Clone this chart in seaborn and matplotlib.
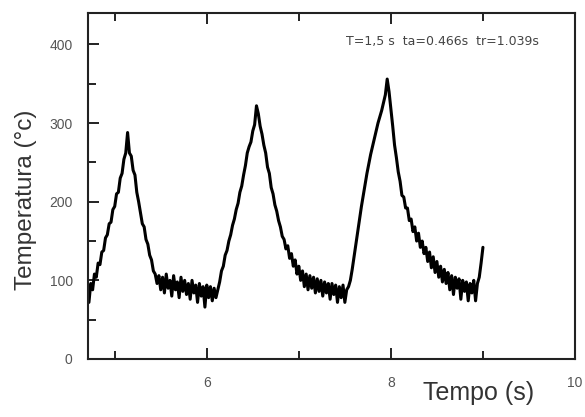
import numpy as np
import pandas as pd
import matplotlib
matplotlib.use("Agg")
import matplotlib.pyplot as plt
import seaborn as sns
from matplotlib.ticker import MultipleLocator

t_start = 4.72
t_step = 0.02

rise_1 = [72, 96, 88, 108, 104, 122, 120, 136, 138, 154, 158, 172, 174, 190, 194,
          210, 212, 230, 236, 254, 262, 288]
fall_1 = [262, 258, 240, 234, 212, 200, 186, 172, 168, 152, 146, 132, 126, 112, 108]
flat_1 = [96, 106, 88, 104, 84, 108, 90, 100, 80, 106, 88, 98, 78, 104, 86, 100, 82,
          96, 76, 100, 84, 94, 72, 96, 80, 92, 66, 94, 78, 92, 74, 90, 78]
rise_2 = [88, 98, 112, 118, 132, 138, 150, 158, 170, 178, 190, 198, 212, 220, 234,
          246, 262, 270, 276, 290, 298, 322]
fall_2 = [312, 296, 286, 272, 262, 244, 236, 218, 210, 196, 188, 176, 168, 156, 152,
          140, 144, 128, 134, 118, 126, 108, 118]
flat_2 = [100, 112, 92, 108, 88, 106, 90, 104, 84, 102, 86, 100, 80, 98, 84, 96, 76,
          96, 82, 94, 72, 92, 78, 94, 72, 88]
rise_3 = [92, 100, 114, 130, 146, 162, 178, 194, 208, 222, 236, 248, 260, 270, 280,
          290, 300, 308, 316, 326, 336, 356]
fall_3 = [340, 318, 296, 272, 256, 238, 226, 208, 206, 192, 192, 176, 178, 162, 168,
          150, 160, 142, 150, 134, 142, 124, 136, 116, 130, 110, 124, 104, 118, 98,
          114, 96]
flat_3 = [110, 88, 106, 82, 104, 90, 102, 76, 100, 86, 98, 74, 96, 84, 100, 74, 96]
tail = [104, 122, 142]

y_ticks = [0, 100, 200, 300, 400]
x_ticks = [6, 8, 10]
annotation = "T=1,5 s  ta=0.466s  tr=1.039s"

temperature = rise_1 + fall_1 + flat_1 + rise_2 + fall_2 + flat_2 + rise_3 + fall_3 + flat_3 + tail
time = t_start + t_step * np.arange(len(temperature))
df = pd.DataFrame({"Tempo": time, "Temperatura": temperature})

# Step 2: plot
sns.set_style("ticks")
plt.rcParams["font.family"] = ["Liberation Sans", "DejaVu Sans"]

fig = plt.figure(figsize=(5.85, 4.17), dpi=100)
ax = fig.add_axes([88 / 585, 1 - 359 / 417, 487 / 585, 346 / 417])

sns.lineplot(data=df, x="Tempo", y="Temperatura", ax=ax, color="black",
             linewidth=2.2, errorbar=None)

ax.set_xlim(4.71, 10.0)
ax.set_ylim(0, 440)
ax.set_xticks(x_ticks)
ax.set_yticks(y_ticks)
ax.xaxis.set_minor_locator(MultipleLocator(1))
ax.yaxis.set_minor_locator(MultipleLocator(50))
ax.tick_params(which="both", direction="in", top=True, right=False, width=1.4,
               color="#222222", labelcolor="#555555", labelsize=10)
ax.tick_params(which="major", length=8)
ax.tick_params(which="minor", length=5.5)
ax.tick_params(axis="x", pad=12)
ax.tick_params(axis="y", pad=11)
for s in ax.spines.values():
    s.set_linewidth(1.5)
    s.set_color("#222222")
ax.set_xlabel("")
ax.set_ylabel("")

fig.text(26 / 585, 1 - 200 / 417, "Temperatura (°c)", rotation=90, ha="center",
         va="center", fontsize=17.5, color="#333333")
fig.text(479 / 585, 1 - 393 / 417, "Tempo (s)", ha="center", va="center",
         fontsize=18, color="#333333")
fig.text(442 / 585, 1 - 41 / 417, annotation, fontsize=9, color="#444444",
         ha="center", va="center", family="DejaVu Sans")

fig.savefig("out.png", dpi=100)
